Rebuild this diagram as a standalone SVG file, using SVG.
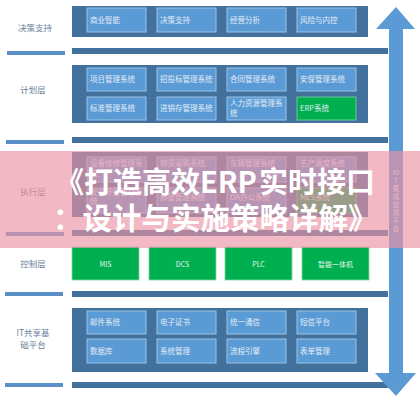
<svg xmlns="http://www.w3.org/2000/svg" width="420" height="400" viewBox="0 0 420 400">
<style>
.panel{fill:#41719c}
.box{fill:#5b9bd5;stroke:#9dc3e6;stroke-width:1}
.gbox{fill:#00b050;stroke:#7fd69f;stroke-width:0.8}
.sep{fill:#41719c}
.lbar{fill:#5b8fc7}
.bt{font-family:"Noto Sans CJK SC","Noto Sans",sans-serif;font-size:7.5px;fill:#e3ecf7}
.gt{font-family:"Noto Sans CJK SC","Noto Sans",sans-serif;font-size:7px;fill:#e3f5ea;text-anchor:middle}
.lab{font-family:"Noto Sans CJK SC","Noto Sans",sans-serif;font-size:8.5px;fill:#6a7f9a;text-anchor:middle}
.vt{font-family:"Noto Sans CJK SC","Noto Sans",sans-serif;font-size:6.5px;fill:#f4f7fb;text-anchor:middle}
.title{font-family:"Noto Sans CJK SC","Noto Sans",sans-serif;font-weight:bold;fill:#ffffff}
</style>
<rect width="420" height="400" fill="#ffffff"/>

<g id="labels">
<text class="lab" x="35" y="31">决策支持</text>
<text class="lab" x="33" y="93">计划层</text>
<text class="lab" x="33" y="195">执行层</text>
<text class="lab" x="33" y="267">控制层</text>
<text class="lab" x="33" y="336">IT共享基</text>
<text class="lab" x="33" y="348">础平台</text>
</g>

<g id="connectors">
<rect class="lbar" x="7" y="51" width="58" height="4"/>
<rect class="sep" x="72" y="48" width="316" height="6"/>
<rect class="lbar" x="6" y="140" width="58" height="4"/>
<rect class="sep" x="72" y="137" width="316" height="6"/>
<rect class="lbar" x="6" y="232" width="58" height="4"/>
<rect class="sep" x="72" y="230" width="316" height="6"/>
<rect class="lbar" x="5" y="292" width="58" height="4"/>
<rect class="sep" x="72" y="291" width="316" height="6"/>
<rect class="lbar" x="5" y="383" width="58" height="4"/>
<rect class="sep" x="72" y="382" width="320" height="6"/>
<path d="M396,7 L415,29 L403,29 L403,373 L416,373 L396,396 L375,373 L389,373 L389,29 L376,29 Z" fill="#5b9bd5"/>
</g>

<g id="node-decision">
<rect class="panel" x="72" y="6" width="296" height="31"/>
<rect class="box" x="87" y="8" width="59" height="24"/><text class="bt" x="90" y="23">商业智能</text>
<rect class="box" x="157" y="8" width="59" height="24"/><text class="bt" x="160" y="23">决策支持</text>
<rect class="box" x="227" y="8" width="59" height="24"/><text class="bt" x="230" y="23">经营分析</text>
<rect class="box" x="297" y="8" width="59" height="24"/><text class="bt" x="300" y="23">风险与内控</text>
</g>

<g id="node-plan">
<rect class="panel" x="72" y="65" width="296" height="58"/>
<rect class="box" x="87" y="68" width="59" height="23"/><text class="bt" x="90" y="82">项目管理系统</text>
<rect class="box" x="157" y="68" width="59" height="23"/><text class="bt" x="160" y="82">招投标管理系统</text>
<rect class="box" x="227" y="68" width="59" height="23"/><text class="bt" x="230" y="82">合同管理系统</text>
<rect class="box" x="297" y="68" width="59" height="23"/><text class="bt" x="300" y="82">安保管理系统</text>
<rect class="box" x="87" y="97" width="59" height="23"/><text class="bt" x="90" y="111">标准管理系统</text>
<rect class="box" x="157" y="97" width="59" height="23"/><text class="bt" x="160" y="111">进销存管理系统</text>
<rect class="box" x="227" y="97" width="59" height="23"/><text class="bt" x="230" y="106">人力资源管理系</text><text class="bt" x="230" y="116">统</text>
<rect class="gbox" x="297" y="97" width="59" height="23"/><text class="bt" x="300" y="111">ERP系统</text>
</g>

<g id="node-exec">
<rect class="panel" x="72" y="152" width="296" height="65"/>
<rect class="box" x="87" y="157" width="59" height="25"/><text class="bt" x="90" y="166">设备维修管理系</text><text class="bt" x="90" y="176">统</text>
<rect class="box" x="157" y="157" width="59" height="25"/><text class="bt" x="160" y="166">物资采购系统</text>
<rect class="box" x="227" y="157" width="59" height="25"/><text class="bt" x="230" y="166">车辆管理系统</text>
<rect class="box" x="297" y="157" width="59" height="25"/><text class="bt" x="300" y="166">生产调度系统</text>
<rect class="box" x="87" y="188" width="59" height="25"/><text class="bt" x="90" y="195">安全环保管理系</text><text class="bt" x="90" y="204">统</text>
<rect class="box" x="157" y="188" width="59" height="25"/><text class="bt" x="160" y="200">质量管理系统</text>
<rect class="box" x="227" y="188" width="59" height="25"/><text class="bt" x="230" y="200">OA办公系统</text>
<rect class="gbox" x="297" y="188" width="59" height="25"/><text class="bt" x="300" y="200">MES系统</text>
</g>

<g id="node-control">
<rect class="gbox" x="72" y="247" width="67" height="33"/><text class="gt" x="105.5" y="267">MIS</text>
<rect class="gbox" x="149" y="247" width="67" height="33"/><text class="gt" x="182.5" y="267">DCS</text>
<rect class="gbox" x="225" y="247" width="67" height="33"/><text class="gt" x="258.5" y="267">PLC</text>
<rect class="gbox" x="302" y="247" width="67" height="33"/><text class="gt" x="335.5" y="267">智能一体机</text>
</g>

<g id="node-it">
<rect class="panel" x="72" y="308" width="296" height="64"/>
<rect class="box" x="87" y="311" width="59" height="23"/><text class="bt" x="90" y="325">邮件系统</text>
<rect class="box" x="157" y="311" width="59" height="23"/><text class="bt" x="160" y="325">电子证书</text>
<rect class="box" x="227" y="311" width="59" height="23"/><text class="bt" x="230" y="325">统一通信</text>
<rect class="box" x="297" y="311" width="59" height="23"/><text class="bt" x="300" y="325">短信平台</text>
<rect class="box" x="87" y="339" width="59" height="24"/><text class="bt" x="90" y="354">数据库</text>
<rect class="box" x="157" y="339" width="59" height="24"/><text class="bt" x="160" y="354">系统管理</text>
<rect class="box" x="227" y="339" width="59" height="24"/><text class="bt" x="230" y="354">流程引擎</text>
<rect class="box" x="297" y="339" width="59" height="24"/><text class="bt" x="300" y="354">表单管理</text>
</g>

<g id="node-iot">
<text class="vt" x="396" y="175">IO</text>
<text class="vt" x="396" y="183">T</text>
<text class="vt" x="396" y="191">集</text>
<text class="vt" x="396" y="199">成</text>
<text class="vt" x="396" y="207">应</text>
<text class="vt" x="396" y="215">用</text>
<text class="vt" x="396" y="223">平</text>
<text class="vt" x="396" y="231">台</text>
</g>

<g id="overlay">
<rect x="0" y="151" width="420" height="97" fill="rgb(235,146,163)" fill-opacity="0.65"/>
<text class="title" x="55" y="193" font-size="29">《打造高效ERP<tspan x="259">实时接口</tspan></text>
<text class="title" x="53" y="229" font-size="29.5">：设计与实施策略详解》</text>
</g>
</svg>
